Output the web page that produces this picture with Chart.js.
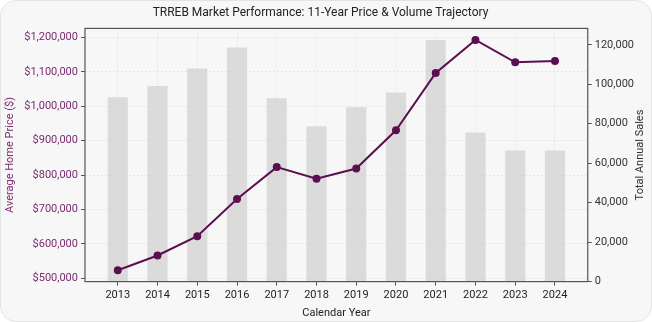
<!DOCTYPE html>
<html>
<head>
<meta charset="utf-8">
<script src="https://cdn.jsdelivr.net/npm/chart.js@4.4.1/dist/chart.umd.min.js"></script>
<style>
  html, body { margin: 0; padding: 0; background: #ffffff; }
  .card {
    width: 650px; height: 320px;
    background: #f7f7f7;
    border: 1px solid #e4e4e4;
    border-radius: 16px;
    overflow: hidden;
    position: relative;
  }
  canvas { position: absolute; left: -1px; top: -1px; }
</style>
</head>
<body>
<div class="card"><canvas id="chart" width="652" height="322"></canvas></div>
<script>
// Datos
const years = [2013, 2014, 2015, 2016, 2017, 2018, 2019, 2020, 2021, 2022, 2023, 2024];
const avgPrice = [523000, 566000, 622000, 730000, 823000, 789000, 819000, 930000, 1097000, 1193000, 1128000, 1132000];
const totalSales = [93300, 98900, 107800, 118500, 92800, 78600, 88200, 95700, 122200, 75400, 66300, 66300];

const priceColor = '#5c0f4f';
const labelPurple = '#7b2a70';
const FONT = "'Roboto', 'Open Sans', sans-serif";

// marco completo + titulo del eje derecho (de abajo hacia arriba)
const framePlugin = {
    id: 'frame',
    afterDatasetsDraw(chart) {
        const a = chart.chartArea;
        const ctx = chart.ctx;
        ctx.save();
        ctx.strokeStyle = '#555555';
        ctx.lineWidth = 1.2;
        ctx.strokeRect(a.left, a.top, a.right - a.left, a.bottom - a.top);
        ctx.restore();
    },
    afterDraw(chart) {
        const a = chart.chartArea;
        const ctx = chart.ctx;
        ctx.save();
        ctx.translate(640, (a.top + a.bottom) / 2);
        ctx.rotate(-Math.PI / 2);
        ctx.fillStyle = '#333333';
        ctx.font = "11px " + FONT;
        ctx.textAlign = 'center';
        ctx.textBaseline = 'middle';
        ctx.fillText('Total Annual Sales', 0, 0);
        ctx.restore();
    }
};

const ctx = document.getElementById('chart');
new Chart(ctx, {
    data: {
        datasets: [
            {
                type: 'line',
                label: 'Average Home Price',
                data: years.map((y, i) => ({ x: y, y: avgPrice[i] })),
                yAxisID: 'y',
                borderColor: priceColor,
                backgroundColor: priceColor,
                borderWidth: 2,
                pointRadius: 3,
                pointHoverRadius: 3,
                tension: 0,
                order: 0
            },
            {
                type: 'bar',
                label: 'Total Annual Sales',
                data: years.map((y, i) => ({ x: y, y: totalSales[i] })),
                yAxisID: 'y2',
                backgroundColor: 'rgba(205, 205, 205, 0.65)',
                barThickness: 19.5,
                order: 1
            }
        ]
    },
    options: {
        responsive: false,
        animation: false,
        layout: { padding: { left: 4, right: 15, top: 4, bottom: 2 } },
        plugins: {
            legend: { display: false },
            tooltip: { enabled: false },
            title: {
                display: true,
                text: 'TRREB Market Performance: 11-Year Price & Volume Trajectory',
                color: '#222222',
                font: { family: FONT, size: 12, weight: 'normal' },
                padding: { top: 2, bottom: 8 }
            }
        },
        scales: {
            x: {
                type: 'linear',
                offset: false,
                min: 2012.175,
                max: 2024.825,
                afterBuildTicks: (axis) => { axis.ticks = years.map(v => ({ value: v })); },
                ticks: {
                    color: '#222222',
                    font: { family: FONT, size: 11 },
                    padding: 3,
                    callback: (v) => String(v)
                },
                grid: {
                    offset: false,
                    color: 'rgba(0,0,0,0.06)',
                    tickColor: '#555555',
                    tickLength: 4
                },
                border: { display: false, dash: [2, 2] },
                title: {
                    display: true,
                    text: 'Calendar Year',
                    color: '#222222',
                    font: { family: FONT, size: 11 },
                    padding: { top: 2, bottom: 0 }
                }
            },
            y: {
                position: 'left',
                min: 490000,
                max: 1226500,
                afterBuildTicks: (axis) => {
                    const t = [];
                    for (let v = 500000; v <= 1200000; v += 100000) t.push({ value: v });
                    axis.ticks = t;
                },
                ticks: {
                    color: labelPurple,
                    font: { family: FONT, size: 11 },
                    padding: 3,
                    callback: (v) => '$' + v.toLocaleString('en-US')
                },
                grid: {
                    color: 'rgba(0,0,0,0.07)',
                    tickColor: '#555555',
                    tickLength: 4
                },
                border: { display: false, dash: [2, 2] },
                title: {
                    display: true,
                    text: 'Average Home Price ($)',
                    color: labelPurple,
                    font: { family: FONT, size: 11 },
                    padding: { top: 0, bottom: 4 }
                }
            },
            y2: {
                position: 'right',
                min: 0,
                max: 128300,
                afterBuildTicks: (axis) => {
                    const t = [];
                    for (let v = 0; v <= 120000; v += 20000) t.push({ value: v });
                    axis.ticks = t;
                },
                ticks: {
                    color: '#333333',
                    font: { family: FONT, size: 11 },
                    padding: 3,
                    callback: (v) => v.toLocaleString('en-US')
                },
                grid: {
                    drawOnChartArea: false,
                    tickColor: '#555555',
                    tickLength: 4
                },
                border: { display: false },
                title: { display: false }
            }
        }
    },
    plugins: [framePlugin]
});
</script>
</body>
</html>
